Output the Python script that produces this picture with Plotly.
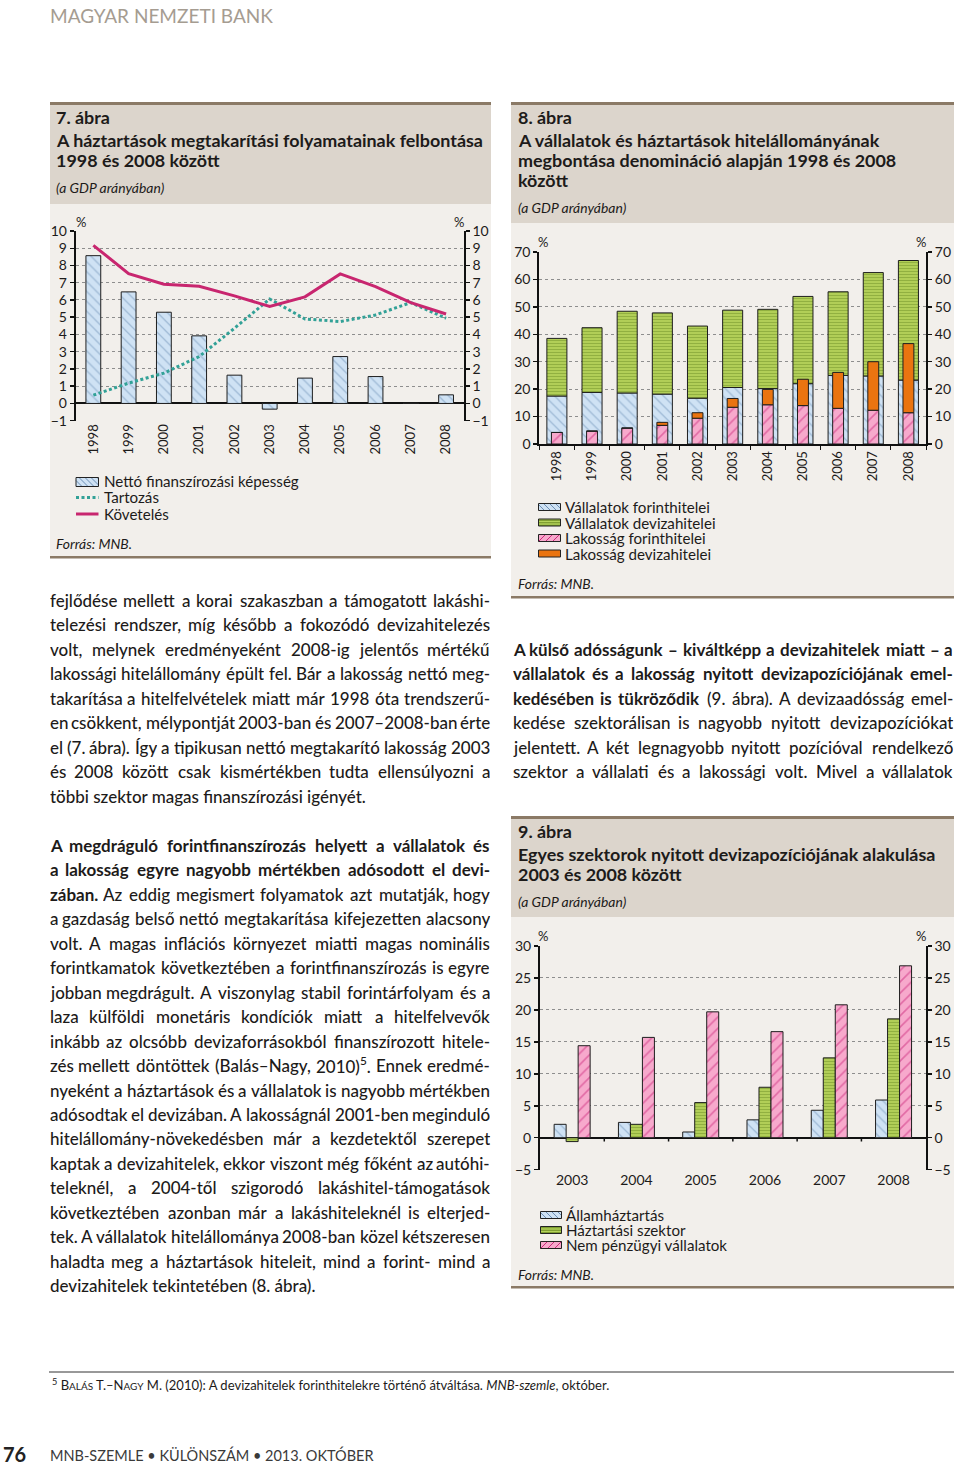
import glob
import os
import re
import struct
import plotly.graph_objects as go

# ------------------------------------------------------------------ DATA
years = ["1998", "1999", "2000", "2001", "2002", "2003", "2004", "2005", "2006", "2007", "2008"]

# 7. ábra
netto_fin = [8.57, 6.47, 5.29, 3.92, 1.64, -0.33, 1.47, 2.72, 1.56, 0.03, 0.50]
tartozas = [0.48, 1.18, 1.76, 2.72, 4.36, 6.06, 4.90, 4.75, 5.13, 5.85, 4.94]
koveteles = [9.17, 7.53, 6.91, 6.80, 6.24, 5.62, 6.18, 7.51, 6.78, 5.85, 5.19]

# 8. ábra
vall_forint = [17.5, 18.8, 18.6, 18.2, 16.7, 20.6, 20.2, 22.0, 25.0, 24.8, 23.3]
vall_deviza = [21.0, 23.6, 29.8, 29.6, 26.3, 28.2, 28.9, 31.8, 30.5, 37.7, 43.6]
lak_forint = [4.2, 4.7, 5.8, 6.8, 9.4, 13.4, 14.3, 14.0, 13.0, 12.3, 11.4]
lak_deviza = [0.0, 0.0, 0.0, 1.1, 2.0, 3.2, 5.6, 9.6, 13.1, 17.7, 25.2]

# 9. ábra
years9 = ["2003", "2004", "2005", "2006", "2007", "2008"]
allamhaztartas = [2.1, 2.4, 0.9, 2.8, 4.3, 5.9]
haztartasi = [-0.6, 2.1, 5.5, 7.9, 12.5, 18.6]
nem_penzugyi = [14.4, 15.7, 19.7, 16.6, 20.8, 26.9]

y7_ticks = list(range(-1, 11))
y8_ticks = list(range(0, 71, 10))
y9_ticks = list(range(-5, 31, 5))

# ------------------------------------------------------------------ TEXT
title7 = ["7. ábra", "A háztartások megtakarítási folyamatainak felbontása", "1998 és 2008 között"]
title8 = ["8. ábra", "A vállalatok és háztartások hitelállományának",
          "megbontása denomináció alapján 1998 és 2008", "között"]
title9 = ["9. ábra", "Egyes szektorok nyitott devizapozíciójának alakulása", "2003 és 2008 között"]
subtitle = "(a GDP arányában)"
source = "Forrás: MNB."

legend7 = ["Nettó finanszírozási képesség", "Tartozás", "Követelés"]
legend8 = ["Vállalatok forinthitelei", "Vállalatok devizahitelei", "Lakosság forinthitelei", "Lakosság devizahitelei"]
legend9 = ["Államháztartás", "Háztartási szektor", "Nem pénzügyi vállalatok"]

left_p1 = [
    "fejlődése mellett a korai szakaszban a támogatott lakáshi-",
    "telezési rendszer, míg később a fokozódó devizahitelezés",
    "volt, melynek eredményeként 2008-ig jelentős mértékű",
    "lakossági hitelállomány épült fel. Bár a lakosság nettó meg-",
    "takarítása a hitelfelvételek miatt már 1998 óta trendszerű-",
    "en csökkent, mélypontját 2003-ban és 2007–2008-ban érte",
    "el (7. ábra). Így a tipikusan nettó megtakarító lakosság 2003",
    "és 2008 között csak kismértékben tudta ellensúlyozni a",
    "többi szektor magas finanszírozási igényét.",
]
left_p2 = [
    "**A megdráguló forintfinanszírozás helyett a vállalatok és**",
    "**a lakosság egyre nagyobb mértékben adósodott el devi-**",
    "**zában.** Az eddig megismert folyamatok azt mutatják, hogy",
    "a gazdaság belső nettó megtakarítása kifejezetten alacsony",
    "volt. A magas inflációs környezet miatti magas nominális",
    "forintkamatok következtében a forintfinanszírozás is egyre",
    "jobban megdrágult. A viszonylag stabil forintárfolyam és a",
    "laza külföldi monetáris kondíciók miatt a hitelfelvevők",
    "inkább az olcsóbb devizaforrásokból finanszírozott hitele-",
    "zés mellett döntöttek (Balás–Nagy, 2010)<sup>5</sup>. Ennek eredmé-",
    "nyeként a háztartások és a vállalatok is nagyobb mértékben",
    "adósodtak el devizában. A lakosságnál 2001-ben meginduló",
    "hitelállomány-növekedésben már a kezdetektől szerepet",
    "kaptak a devizahitelek, ekkor viszont még főként az autóhi-",
    "teleknél, a 2004-től szigorodó lakáshitel-támogatások",
    "következtében azonban már a lakáshiteleknél is elterjed-",
    "tek. A vállalatok hitelállománya 2008-ban közel kétszeresen",
    "haladta meg a háztartások hiteleit, mind a forint- mind a",
    "devizahitelek tekintetében (8. ábra).",
]
right_p = [
    "**A külső adósságunk – kiváltképp a devizahitelek miatt – a**",
    "**vállalatok és a lakosság nyitott devizapozíciójának emel-**",
    "**kedésében is tükröződik** (9. ábra). A devizaadósság emel-",
    "kedése szektorálisan is nagyobb nyitott devizapozíciókat",
    "jelentett. A két legnagyobb nyitott pozícióval rendelkező",
    "szektor a vállalati és a lakossági volt. Mivel a vállalatok",
]
header_text = "MAGYAR NEMZETI BANK"
footnote_text = ("<sup>5</sup> B<span style='font-size:10px'>ALÁS</span> T.–N<span style='font-size:10px'>AGY</span> M. "
                 "(2010): A devizahitelek forinthitelekre történő átváltása. <i>MNB-szemle</i>, október.")
footer_page = "76"
footer_text = "MNB-SZEMLE • KÜLÖNSZÁM • 2013. OKTÓBER"

# ------------------------------------------------------------------ FONT METRICS
FONT = "Lato"


class FontMetrics:
    def __init__(self, path):
        self.ok = False
        self.cache = {}
        if not path:
            return
        try:
            with open(path, "rb") as f:
                d = f.read()
            self.d = d
            num = struct.unpack(">H", d[4:6])[0]
            t = {}
            for i in range(num):
                tag, _, off, _ln = struct.unpack(">4sIII", d[12 + 16 * i:28 + 16 * i])
                t[tag] = off
            h = t[b"head"]
            self.upm = struct.unpack(">H", d[h + 18:h + 20])[0]
            hh = t[b"hhea"]
            n = struct.unpack(">H", d[hh + 34:hh + 36])[0]
            hm = t[b"hmtx"]
            self.adv = struct.unpack(">%dH" % (2 * n), d[hm:hm + 4 * n])[0::2]
            c = t[b"cmap"]
            nsub = struct.unpack(">H", d[c + 2:c + 4])[0]
            sub = None
            for i in range(nsub):
                pid, eid, off = struct.unpack(">HHI", d[c + 4 + 8 * i:c + 12 + 8 * i])
                fmt = struct.unpack(">H", d[c + off:c + off + 2])[0]
                if fmt == 4 and (pid == 0 or (pid == 3 and eid == 1)):
                    sub = c + off
                    break
            segx2 = struct.unpack(">H", d[sub + 6:sub + 8])[0]
            sc = segx2 // 2
            self.ends = struct.unpack(">%dH" % sc, d[sub + 14:sub + 14 + segx2])
            self.starts = struct.unpack(">%dH" % sc, d[sub + 16 + segx2:sub + 16 + 2 * segx2])
            self.deltas = struct.unpack(">%dH" % sc, d[sub + 16 + 2 * segx2:sub + 16 + 3 * segx2])
            self.ro_pos = sub + 16 + 3 * segx2
            self.ros = struct.unpack(">%dH" % sc, d[self.ro_pos:self.ro_pos + segx2])
            self.ok = True
        except Exception:
            self.ok = False

    def glyph(self, ch):
        code = ord(ch)
        if code > 0xFFFF:
            return 0
        for i, e in enumerate(self.ends):
            if e >= code:
                s = self.starts[i]
                if s > code:
                    return 0
                if self.ros[i] == 0:
                    return (code + self.deltas[i]) & 0xFFFF
                addr = self.ro_pos + 2 * i + self.ros[i] + 2 * (code - s)
                g = struct.unpack(">H", self.d[addr:addr + 2])[0]
                return (g + self.deltas[i]) & 0xFFFF if g else 0
        return 0

    def width(self, text, size):
        if not self.ok:
            return 0.5 * size * len(text)
        tot = 0
        for ch in text:
            if ch not in self.cache:
                g = self.glyph(ch)
                self.cache[ch] = self.adv[g] if g < len(self.adv) else self.adv[-1]
            tot += self.cache[ch]
        return tot * size / self.upm


def find_font(fname):
    for root in ["/usr/share/fonts", "/usr/local/share/fonts",
                 os.path.expanduser("~/.fonts"), os.path.expanduser("~/.local/share/fonts")]:
        hits = glob.glob(os.path.join(root, "**", fname), recursive=True)
        if hits:
            return hits[0]
    return None


FM_R = FontMetrics(find_font("Lato-Regular.ttf"))
FM_M = FontMetrics(find_font("Lato-Medium.ttf"))
FM_B = FontMetrics(find_font("Lato-Bold.ttf"))
FM_I = FontMetrics(find_font("Lato-Italic.ttf"))
BODY_WEIGHT = 500
if not FM_M.ok:
    FM_M = FM_R
    BODY_WEIGHT = 400


def fit_size(text, target_px, fm, lo, hi):
    w1 = fm.width(text, 1.0)
    if w1 <= 0:
        return (lo + hi) / 2
    return max(lo, min(hi, target_px / w1))


BODY = fit_size(left_p1[-1], 318, FM_M, 14, 17.5)
TITLE = fit_size(title7[1], 428, FM_B, 14, 19)
SUB = fit_size(subtitle, 110, FM_I, 11.5, 14.5)
LEG = fit_size(legend7[0], 197, FM_R, 12.5, 15.5)
FOOT = fit_size("5 BALÁS T.–NAGY M. (2010): A devizahitelek forinthitelekre történő átváltása. MNB-szemle, október.",
                583, FM_R, 11.5, 14.5)

# ------------------------------------------------------------------ HELPERS
W, H = 960, 1465


def px(x):
    return x / W


def py(y):
    return 1 - y / H


anns = []
shapes = []
TXT = "#1d1b1a"


def txt(x, y, s, size, color=TXT, anchor="left", bold=False, italic=False, height=None, weight=None):
    if bold:
        s = "<b>" + s + "</b>"
    if italic:
        s = "<i>" + s + "</i>"
    f = dict(size=size, color=color, family=FONT)
    if weight:
        f["weight"] = weight
    a = dict(x=px(x), y=py(y), xref="paper", yref="paper", text=s, showarrow=False,
             xanchor=anchor, yanchor="middle", borderpad=0, font=f)
    if height:
        a["height"] = height
    anns.append(a)


def tokens_of(line):
    parts = line.split("**")
    toks = []
    for i, p in enumerate(parts):
        for w in p.split():
            toks.append((w, i % 2 == 1))
    return toks


def tok_width(w, size, bold):
    fm = FM_B if bold else FM_M
    tot = 0
    for m in re.split(r"(<sup>.*?</sup>)", w):
        if m.startswith("<sup>"):
            tot += fm.width(m[5:-6], size * 0.7)
        else:
            tot += fm.width(m, size)
    return tot


BODY_H = 22


def place_line(line, x0, x1, y, size, justify):
    if not justify:
        html = re.sub(r"\*\*(.*?)\*\*", r"<b>\1</b>", line)
        txt(x0, y, html, size, height=BODY_H, weight=BODY_WEIGHT)
        return
    toks = tokens_of(line)
    ws = [tok_width(w, size, b) for w, b in toks]
    n = len(toks)
    gap = (x1 - x0 - sum(ws)) / (n - 1)
    pos = x0
    for i, ((w, b), wd) in enumerate(zip(toks, ws)):
        if i == 0:
            txt(x0, y, w, size, anchor="left", bold=b, height=BODY_H, weight=BODY_WEIGHT)
        elif i == n - 1:
            txt(x1, y, w, size, anchor="right", bold=b, height=BODY_H, weight=BODY_WEIGHT)
        else:
            txt(pos + wd / 2, y, w, size, anchor="center", bold=b, height=BODY_H, weight=BODY_WEIGHT)
        pos += wd + gap


def paragraph(lines, x0, x1, y0, step, size, last_justified=False):
    for k, line in enumerate(lines):
        just = last_justified or k < len(lines) - 1
        place_line(line, x0, x1, y0 + k * step, size, just)


def rect(x0, y0, x1, y1, color, layer="below", line=None):
    d = dict(type="rect", xref="paper", yref="paper", x0=px(x0), x1=px(x1), y0=py(y1), y1=py(y0),
             fillcolor=color, layer=layer)
    d["line"] = line if line else dict(width=0)
    shapes.append(d)


def pline(x0, y0, x1, y1, color, width, dash=None):
    ln = dict(color=color, width=width)
    if dash:
        ln["dash"] = dash
    shapes.append(dict(type="line", xref="paper", yref="paper", x0=px(x0), x1=px(x1),
                       y0=py(y0), y1=py(y1), line=ln, layer="above"))


def swatch(x0, y0, x1, y1, bg, fg, kind, spacing):
    rect(x0, y0, x1, y1, bg, layer="above")
    h = y1 - y0
    if kind == "-":
        yy = y0 + spacing / 2
        while yy < y1:
            pline(x0, yy, x1, yy, fg, 1)
            yy += spacing
    elif kind in ("\\", "/"):
        c = x0 - h
        while c < x1:
            sx, ex = max(c, x0), min(c + h, x1)
            if ex > sx:
                if kind == "\\":
                    pline(sx, y0 + (sx - c), ex, y0 + (ex - c), fg, 1)
                else:
                    pline(sx, y1 - (sx - c), ex, y1 - (ex - c), fg, 1)
            c += spacing
    rect(x0, y0, x1, y1, "rgba(0,0,0,0)", layer="above", line=dict(color="#222", width=1))


# ------------------------------------------------------------------ STYLES
BLUE_BG, BLUE_FG = "#cfe2f4", "#6d8fb5"
GREEN_BG, GREEN_FG = "#b4d25a", "#6e8d25"
PINK_BG, PINK_FG = "#f7a9cc", "#cc2a7c"
ORANGE = "#ea7410"
TEAL = "#32a197"
MAGENTA = "#c8266f"
OUT = dict(color="#1e1e1e", width=1)

HEAD_BG = "#dcd5cc"
BODY_BG = "#f2efeb"
BORDER = "#8b7a66"

fig = go.Figure()

# ---- 7. ábra
fig.add_trace(go.Bar(x=years, y=netto_fin, xaxis="x", yaxis="y", width=0.42, name=legend7[0],
                     marker=dict(color=BLUE_BG, line=OUT,
                                 pattern=dict(shape="\\", fgcolor=BLUE_FG, bgcolor=BLUE_BG, size=7,
                                              solidity=0.18))))
fig.add_trace(go.Scatter(x=years, y=tartozas, xaxis="x", yaxis="y2", mode="lines", name=legend7[1],
                         line=dict(color=TEAL, width=3, dash="3px,2.5px")))
fig.add_trace(go.Scatter(x=years, y=koveteles, xaxis="x", yaxis="y2", mode="lines", name=legend7[2],
                         line=dict(color=MAGENTA, width=3)))

# ---- 8. ábra
fig.add_trace(go.Bar(x=years, y=vall_forint, xaxis="x2", yaxis="y3", width=0.57, offset=-0.285,
                     name=legend8[0],
                     marker=dict(color=BLUE_BG, line=OUT,
                                 pattern=dict(shape="\\", fgcolor=BLUE_FG, bgcolor=BLUE_BG, size=7,
                                              solidity=0.18))))
fig.add_trace(go.Bar(x=years, y=vall_deviza, base=vall_forint, xaxis="x2", yaxis="y3", width=0.57,
                     offset=-0.285, name=legend8[1],
                     marker=dict(color=GREEN_BG, line=OUT,
                                 pattern=dict(shape="-", fgcolor=GREEN_FG, bgcolor=GREEN_BG, size=3,
                                              solidity=0.4))))
fig.add_trace(go.Bar(x=years, y=lak_forint, xaxis="x2", yaxis="y4", width=0.31, offset=-0.155,
                     name=legend8[2],
                     marker=dict(color=PINK_BG, line=OUT,
                                 pattern=dict(shape="/", fgcolor=PINK_FG, bgcolor=PINK_BG, size=8,
                                              solidity=0.2))))
fig.add_trace(go.Bar(x=years, y=lak_deviza, base=lak_forint, xaxis="x2", yaxis="y4", width=0.31,
                     offset=-0.155, name=legend8[3], marker=dict(color=ORANGE, line=OUT)))

# ---- 9. ábra
fig.add_trace(go.Bar(x=years9, y=allamhaztartas, xaxis="x3", yaxis="y5", name=legend9[0],
                     marker=dict(color=BLUE_BG, line=OUT,
                                 pattern=dict(shape="\\", fgcolor=BLUE_FG, bgcolor=BLUE_BG, size=7,
                                              solidity=0.18))))
fig.add_trace(go.Bar(x=years9, y=haztartasi, xaxis="x3", yaxis="y5", name=legend9[1],
                     marker=dict(color=GREEN_BG, line=OUT,
                                 pattern=dict(shape="-", fgcolor=GREEN_FG, bgcolor=GREEN_BG, size=3,
                                              solidity=0.4))))
fig.add_trace(go.Bar(x=years9, y=nem_penzugyi, xaxis="x3", yaxis="y5", name=legend9[2],
                     marker=dict(color=PINK_BG, line=OUT,
                                 pattern=dict(shape="/", fgcolor=PINK_FG, bgcolor=PINK_BG, size=8,
                                              solidity=0.2))))
# empty helper trace so that the right-hand axis of chart 9 is drawn
fig.add_trace(go.Scatter(x=years9, y=[None] * len(years9), xaxis="x3", yaxis="y6", mode="lines",
                         showlegend=False, hoverinfo="skip"))

# ------------------------------------------------------------------ AXES
TICKF = dict(size=14, color=TXT, family=FONT)
YEARF = dict(size=13, color=TXT, family=FONT)


def yax(domain, rng, tickvals, anchor, zero):
    return dict(domain=domain, range=rng, tickvals=tickvals, anchor=anchor, showline=True,
                linecolor="#111", linewidth=2, ticks="outside", ticklen=4, tickwidth=1.5,
                tickcolor="#111", tickfont=TICKF, showgrid=True, gridcolor="#8e8e8e", gridwidth=1,
                griddash="dot", zeroline=zero, zerolinecolor="#111", zerolinewidth=2, fixedrange=True)


def yax_r(over, rng, tickvals, anchor):
    return dict(overlaying=over, side="right", range=rng, tickvals=tickvals, anchor=anchor,
                showline=True, linecolor="#111", linewidth=2, ticks="outside", ticklen=4,
                tickwidth=1.5, tickcolor="#111", tickfont=TICKF, showgrid=False, zeroline=False,
                fixedrange=True)


d7y = [py(420.7), py(231)]
d8y = [py(444), py(252)]
d9y = [py(1169.7), py(946)]

fig.update_layout(
    width=W, height=H, margin=dict(l=0, r=0, t=0, b=0, pad=0, autoexpand=False), autosize=False,
    paper_bgcolor="white", plot_bgcolor="rgba(0,0,0,0)", showlegend=False, hovermode=False,
    barmode="group", bargap=0.44, bargroupgap=0.0,
    font=dict(family=FONT, color=TXT),
    xaxis=dict(domain=[px(75.7), px(463.7)], anchor="y", type="category", tickangle=-90,
               tickfont=YEARF, showline=False, ticks="", showgrid=False, fixedrange=True),
    yaxis=yax(d7y, [-1, 10], y7_ticks, "x", True),
    yaxis2=yax_r("y", [-1, 10], y7_ticks, "x"),
    xaxis2=dict(domain=[px(539.3), px(926)], anchor="y3", type="category", tickangle=-90,
                tickfont=YEARF, showline=True, linecolor="#111", linewidth=2, ticks="outside",
                tickson="boundaries", ticklen=4, tickcolor="#111", showgrid=False, fixedrange=True),
    yaxis3=yax(d8y, [0, 70], y8_ticks, "x2", False),
    yaxis4=yax_r("y3", [0, 70], y8_ticks, "x2"),
    xaxis3=dict(domain=[px(540), px(925.7)], anchor="y5", type="category", tickfont=TICKF,
                showline=False, ticks="", showgrid=False, fixedrange=True),
    yaxis5=yax(d9y, [-5, 30], y9_ticks, "x3", True),
    yaxis6=yax_r("y5", [-5, 30], y9_ticks, "x3"),
)

# zero-line tick marks between groups in chart 9
for i in range(len(years9) - 1):
    shapes.append(dict(type="line", xref="x3", yref="y5", x0=i + 0.5, x1=i + 0.5, y0=0, y1=-0.6,
                       line=dict(color="#111", width=1.5), layer="above"))

# ------------------------------------------------------------------ PANELS
rect(50, 102, 491, 105, BORDER)
rect(50, 105, 491, 204, HEAD_BG)
rect(50, 204, 491, 556, BODY_BG)
rect(50, 556, 491, 558.5, BORDER)
rect(511, 102, 954, 105, BORDER)
rect(511, 105, 954, 223, HEAD_BG)
rect(511, 223, 954, 596, BODY_BG)
rect(511, 596, 954, 598.5, BORDER)
rect(511, 816, 954, 819, BORDER)
rect(511, 819, 954, 917, HEAD_BG)
rect(511, 917, 954, 1286, BODY_BG)
rect(511, 1286, 954, 1288.5, BORDER)

for t, yy in zip(title7, [117, 140, 160]):
    txt(55, yy, t, TITLE, bold=True)
txt(55, 187, subtitle, SUB, italic=True)
for t, yy in zip(title8, [117, 140, 160, 180]):
    txt(517, yy, t, TITLE, bold=True)
txt(517, 208, subtitle, SUB, italic=True)
for t, yy in zip(title9, [831, 854, 874]):
    txt(517, yy, t, TITLE, bold=True)
txt(517, 901, subtitle, SUB, italic=True)

for (x, y) in [(81, 222), (459, 222), (543, 242), (921, 242), (543, 936), (921, 936)]:
    txt(x, y, "%", 13, anchor="center")

# legends (manual)
swatch(76, 477.5, 98.5, 486.5, BLUE_BG, BLUE_FG, "\\", 6)
pline(76, 497.5, 98.5, 497.5, TEAL, 3, dash="3px,2.5px")
pline(76, 514, 98.5, 514, MAGENTA, 3)
for t, yy in zip(legend7, [481, 497, 514]):
    txt(103, yy, t, LEG)

leg8_y = [507, 522.5, 538, 553.5]
swatch(538.5, leg8_y[0] - 3.5, 560.5, leg8_y[0] + 3.5, BLUE_BG, BLUE_FG, "\\", 6)
swatch(538.5, leg8_y[1] - 3.5, 560.5, leg8_y[1] + 3.5, GREEN_BG, GREEN_FG, "-", 2.5)
swatch(538.5, leg8_y[2] - 3.5, 560.5, leg8_y[2] + 3.5, PINK_BG, PINK_FG, "/", 7)
rect(538.5, leg8_y[3] - 3.5, 560.5, leg8_y[3] + 3.5, ORANGE, layer="above",
     line=dict(color="#222", width=1))
for t, yy in zip(legend8, leg8_y):
    txt(564, yy, t, LEG)

leg9_y = [1215, 1230, 1245]
swatch(540.5, leg9_y[0] - 3.5, 561.5, leg9_y[0] + 3.5, BLUE_BG, BLUE_FG, "\\", 6)
swatch(540.5, leg9_y[1] - 3.5, 561.5, leg9_y[1] + 3.5, GREEN_BG, GREEN_FG, "-", 2.5)
swatch(540.5, leg9_y[2] - 3.5, 561.5, leg9_y[2] + 3.5, PINK_BG, PINK_FG, "/", 7)
for t, yy in zip(legend9, leg9_y):
    txt(565, yy, t, LEG)

txt(55, 543, source, SUB, italic=True)
txt(517, 583, source, SUB, italic=True)
txt(517, 1274, source, SUB, italic=True)

# ------------------------------------------------------------------ PAGE TEXT
STEP = 24.45
paragraph(left_p1, 49.3, 490.7, 600, STEP, BODY)
paragraph(left_p2, 49.3, 490.7, 845, STEP, BODY)
paragraph(right_p, 512.3, 953.5, 649, STEP, BODY, last_justified=True)

txt(49, 15, header_text, 19, color="#a59c91")
pline(49, 1372, 954, 1372, "#333", 1)
txt(51, 1384, footnote_text, FOOT)
txt(1.5, 1454, footer_page, 20, bold=True, color="#222")
txt(49, 1455, footer_text, 14.5, color="#3a3a3a")

fig.update_layout(annotations=anns, shapes=shapes)

fig.write_html("out.html", config={"displayModeBar": False, "staticPlot": True},
               post_script="document.body.style.margin='0';document.documentElement.style.margin='0';"
                           "document.body.style.overflow='hidden';")
